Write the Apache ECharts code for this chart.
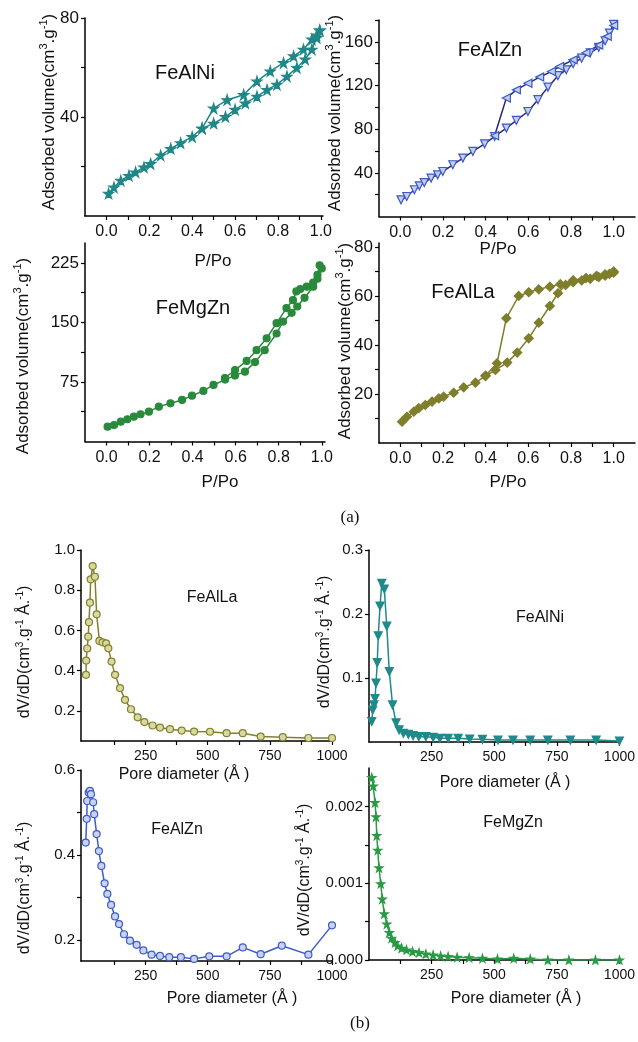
<!DOCTYPE html>
<html>
<head>
<meta charset="utf-8">
<title>Isotherms and pore size distributions</title>
<script src="https://cdn.jsdelivr.net/npm/echarts@6/dist/echarts.min.js"></script>
<style>
  html, body { margin: 0; padding: 0; background: #fff; }
  #chart { width: 638px; height: 1042px; }
</style>
</head>
<body>
<div id="chart"></div>
<script>
// (a) N2 isotherms: relative pressure P/Po and adsorbed volume, adsorption + desorption branches
const niAdsP = [0.01, 0.035, 0.067, 0.105, 0.136, 0.175, 0.206, 0.253, 0.3, 0.346, 0.4, 0.446, 0.5, 0.555, 0.6, 0.648, 0.702, 0.749, 0.795, 0.842, 0.888, 0.927, 0.958, 0.981, 0.995]
const niAdsV = [9.1, 11.6, 14.3, 16.3, 17.7, 19.7, 21.1, 24.5, 27.2, 29.5, 32, 35.4, 37.4, 40.1, 43, 45.6, 48.3, 51, 53.1, 56.4, 59.9, 63.3, 67.3, 72, 75]
const niDesP = [0.995, 0.98, 0.958, 0.919, 0.873, 0.826, 0.764, 0.702, 0.64, 0.563, 0.5, 0.446]
const niDesV = [75, 73, 71.4, 67.3, 64.6, 61.9, 58.5, 54.4, 49, 46.9, 43.5, 35.4]

const znAdsP = [0.003, 0.03, 0.066, 0.089, 0.112, 0.144, 0.175, 0.199, 0.246, 0.293, 0.34, 0.395, 0.442, 0.497, 0.544, 0.598, 0.645, 0.692, 0.739, 0.778, 0.81, 0.85, 0.89, 0.93, 0.96, 0.98, 1.0]
const znAdsV = [15.3, 18.3, 24.5, 28.1, 31.1, 35.2, 38.2, 41.2, 47.4, 53.5, 59.6, 66.6, 73.3, 81, 88, 96.2, 107, 118.5, 129, 134.4, 140, 145, 150, 155, 161, 168, 176]
const znDesP = [1.0, 0.97, 0.93, 0.87, 0.81, 0.747, 0.708, 0.653, 0.598, 0.544, 0.497, 0.442]
const znDesV = [175, 165, 157, 150, 143.5, 137.4, 132.8, 127.7, 122, 116, 108.5, 74]

const mgAdsP = [0.005, 0.035, 0.066, 0.097, 0.127, 0.158, 0.197, 0.243, 0.297, 0.351, 0.397, 0.45, 0.497, 0.551, 0.597, 0.643, 0.69, 0.735, 0.79, 0.82, 0.86, 0.886, 0.92, 0.96, 0.98, 1.0]
const mgAdsV = [18.7, 20.8, 25, 28, 31.3, 34.3, 37.6, 43.9, 48.1, 52.3, 57.7, 63.7, 71.2, 78, 83, 88, 100, 115, 136, 151, 162, 170, 181, 195, 205, 218]
const mgDesP = [0.99, 0.98, 0.96, 0.93, 0.9, 0.882, 0.866, 0.836, 0.79, 0.744, 0.697, 0.651, 0.597, 0.55]
const mgDesV = [222, 210, 200, 195, 192, 189, 178, 168, 149, 130, 115, 101.5, 90, 80]

const laAdsP = [0.008, 0.031, 0.063, 0.086, 0.117, 0.149, 0.18, 0.203, 0.25, 0.297, 0.352, 0.399, 0.446, 0.501, 0.548, 0.602, 0.649, 0.701, 0.739, 0.775, 0.81, 0.85, 0.89, 0.93, 0.96, 0.98, 1.0]
const laAdsV = [8.7, 10.7, 12.8, 14.2, 15.5, 16.9, 18.2, 18.9, 20.5, 22.7, 24.6, 27.3, 29.8, 32.8, 36.9, 42.7, 49.1, 55.9, 61.1, 64.5, 65.6, 66.3, 67, 67.7, 68.3, 69, 69.5]
const laDesP = [1.0, 0.96, 0.92, 0.87, 0.81, 0.75, 0.701, 0.649, 0.602, 0.555, 0.497, 0.453, 0.4]
const laDesV = [70, 68.8, 68.2, 67.3, 66.4, 64.8, 63.8, 62.7, 61.5, 60, 50.9, 32.5, 27.5]

// (b) pore size distributions: pore diameter (Å) and dV/dD
const laPsdD = [10, 11, 15, 19, 22, 26, 29, 37, 46, 53, 64, 77, 91, 100, 113, 127, 147, 167, 191, 218, 245, 278, 308, 348, 395, 445, 509, 576, 641, 713, 802, 905, 1000]
const laPsdV = [0.379, 0.45, 0.51, 0.569, 0.641, 0.738, 0.854, 0.92, 0.867, 0.68, 0.548, 0.541, 0.536, 0.511, 0.445, 0.379, 0.313, 0.255, 0.208, 0.168, 0.144, 0.127, 0.117, 0.109, 0.102, 0.097, 0.096, 0.089, 0.089, 0.072, 0.069, 0.065, 0.065]

const niPsdD = [11, 15, 20, 24, 28, 33, 37, 44, 51, 61, 71, 81, 94, 108, 120, 137, 157, 176, 199, 227, 256, 283, 316, 356, 402, 453, 515, 575, 644, 714, 804, 907, 1000]
const niPsdV = [0.032, 0.05, 0.058, 0.068, 0.092, 0.124, 0.166, 0.2125, 0.248, 0.239, 0.181, 0.11, 0.058, 0.03, 0.019, 0.0136, 0.012, 0.0099, 0.0083, 0.0083, 0.0073, 0.0058, 0.0058, 0.0058, 0.0047, 0.0042, 0.0031, 0.003, 0.003, 0.003, 0.003, 0.003, 0.0016]

const znPsdD = [9, 13, 15, 21, 26, 30, 39, 43, 53, 62, 72, 85, 96, 111, 127, 143, 163, 187, 214, 241, 274, 308, 345, 392, 445, 506, 576, 641, 713, 798, 905, 1000]
const znPsdV = [0.429, 0.485, 0.527, 0.547, 0.551, 0.543, 0.524, 0.496, 0.449, 0.409, 0.374, 0.333, 0.308, 0.282, 0.255, 0.237, 0.213, 0.198, 0.188, 0.175, 0.165, 0.162, 0.159, 0.159, 0.155, 0.161, 0.161, 0.182, 0.166, 0.186, 0.165, 0.234]

const mgPsdD = [11, 17, 24, 28, 31, 35, 40, 47, 53, 61, 71, 81, 90, 104, 114, 130, 150, 174, 200, 227, 256, 286, 316, 352, 400, 453, 513, 578, 644, 714, 798, 904, 1000]
const mgPsdV = [0.002375, 0.002265, 0.00205, 0.001865, 0.00162, 0.00143, 0.0012, 0.000993, 0.000793, 0.000601, 0.000467, 0.000357, 0.000284, 0.000226, 0.000183, 0.000153, 0.000131, 0.000109, 0.000096, 0.000078, 0.000065, 0.000052, 0.000044, 0.000035, 0.00003, 0.000022, 0.000013, 0.000022, 0.000013, 0, 0, 0, 0]

// tick labels
const ppTicks = [0, 0.2, 0.4, 0.6, 0.8, 1.0]
const ppMinor = [0, 0.1, 0.2, 0.3, 0.4, 0.5, 0.6, 0.7, 0.8, 0.9, 1.0]
const poreTicks = [250, 500, 750, 1000]
const poreMinor = [125, 250, 375, 500, 625, 750, 875, 1000]

const FONT = 'Liberation Sans, Arial, sans-serif'
const STAR = 'path://M50,0 L61,35 L98,35 L68,57 L79,91 L50,70 L21,91 L32,57 L2,35 L39,35 Z'

function pairs (xs, ys) {
  return xs.map((x, i) => [x, ys[i]])
}

const axisLine = { show: true, onZero: false, lineStyle: { color: '#000', width: 1.5 } }

function xAxisOf (grid, min, max, labels, ticks, fmt, size) {
  return {
    type: 'value', gridIndex: grid, min: min, max: max,
    axisLine: axisLine,
    axisTick: { show: true, length: 4, customValues: ticks, lineStyle: { color: '#000', width: 1.2 } },
    axisLabel: { customValues: labels, formatter: fmt, fontSize: size, color: '#111', margin: 8, fontFamily: FONT },
    splitLine: { show: false }
  }
}

function yAxisOf (grid, min, max, labels, ticks, fmt, size) {
  return {
    type: 'value', gridIndex: grid, min: min, max: max,
    axisLine: axisLine,
    axisTick: { show: true, length: 4, customValues: ticks, lineStyle: { color: '#000', width: 1.2 } },
    axisLabel: { customValues: labels, formatter: fmt, fontSize: size, color: '#111', margin: 6, fontFamily: FONT },
    splitLine: { show: false }
  }
}

const f1 = v => v.toFixed(1)
const f0 = v => String(v)
const f3 = v => v.toFixed(3)

function lineSeries (idx, data, color, lineColor, symbol, size, fill, rotate) {
  return {
    type: 'line', xAxisIndex: idx, yAxisIndex: idx, data: data,
    symbol: symbol, symbolSize: size, symbolRotate: rotate || 0,
    lineStyle: { color: lineColor, width: 1.5 },
    itemStyle: { color: fill, borderColor: color, borderWidth: 1.2 },
    z: 3
  }
}

function label (x, y, text, size, family) {
  return {
    type: 'text', x: x, y: y, silent: true,
    style: { text: text, fill: '#111', font: size + 'px ' + (family || FONT), textAlign: 'center', textVerticalAlign: 'middle', align: 'center', verticalAlign: 'middle' }
  }
}

function vLabel (x, y, text, size) {
  return {
    type: 'text', x: x, y: y, rotation: Math.PI / 2, silent: true,
    style: {
      text: text, fill: '#111', textAlign: 'center', textVerticalAlign: 'middle', align: 'center', verticalAlign: 'middle',
      rich: {
        a: { fontSize: size, fontFamily: FONT, color: '#111', lineHeight: size + 4 },
        s: { fontSize: Math.round(size * 0.62), fontFamily: FONT, color: '#111', verticalAlign: 'top', lineHeight: size + 4 }
      }
    }
  }
}

const adsName = '{a|Adsorbed volume(cm}{s|3}{a|.g}{s|-1}{a|)}'
const psdName = '{a|dV/dD(cm}{s|3}{a|.g}{s|-1}{a| Å.}{s|-1}{a|)}'

const chart = echarts.init(document.getElementById('chart'))
chart.setOption({
  animation: false,
  backgroundColor: '#fff',
  grid: [
    { left: 85, top: 18, width: 238, height: 198 },
    { left: 379, top: 20, width: 256, height: 196.5 },
    { left: 85, top: 243, width: 240, height: 198.5 },
    { left: 379, top: 243, width: 256, height: 200 },
    { left: 81, top: 550, width: 251, height: 191 },
    { left: 369, top: 550, width: 251, height: 192 },
    { left: 81, top: 770, width: 251, height: 191 },
    { left: 369, top: 768, width: 251, height: 192 }
  ],
  xAxis: [
    xAxisOf(0, -0.1, 1.01, ppTicks, ppMinor, f1, 16),
    xAxisOf(1, -0.1, 1.1, ppTicks, ppMinor, f1, 16),
    xAxisOf(2, -0.1, 1.015, ppTicks, ppMinor, f1, 16),
    xAxisOf(3, -0.1, 1.1, ppTicks, ppMinor, f1, 16),
    xAxisOf(4, -10, 1000, poreTicks, poreMinor, f0, 14),
    xAxisOf(5, 0, 1000, poreTicks, poreMinor, f0, 14),
    xAxisOf(6, -10, 1000, poreTicks, poreMinor, f0, 14),
    xAxisOf(7, 0, 1000, poreTicks, poreMinor, f0, 14)
  ],
  yAxis: [
    yAxisOf(0, 0, 80, [40, 80], [20, 40, 60, 80], f0, 17),
    yAxisOf(1, 0, 180, [40, 80, 120, 160], [20, 40, 60, 80, 100, 120, 140, 160, 180], f0, 17),
    yAxisOf(2, 0, 250, [75, 150, 225], [37.5, 75, 112.5, 150, 187.5, 225], f0, 17),
    yAxisOf(3, 0, 81.6, [20, 40, 60, 80], [10, 20, 30, 40, 50, 60, 70, 80], f0, 17),
    yAxisOf(4, 0.05, 1.0, [0.2, 0.4, 0.6, 0.8, 1.0], [0.2, 0.4, 0.6, 0.8, 1.0], f1, 15),
    yAxisOf(5, 0, 0.3, [0.1, 0.2, 0.3], [0.1, 0.2, 0.3], f1, 15),
    yAxisOf(6, 0.15, 0.6, [0.2, 0.4, 0.6], [0.2, 0.3, 0.4, 0.5, 0.6], f1, 15),
    yAxisOf(7, 0, 0.0025, [0, 0.001, 0.002], [0, 0.0005, 0.001, 0.0015, 0.002], f3, 15)
  ],
  series: [
    lineSeries(0, pairs(niAdsP, niAdsV), '#1f8787', '#1f8787', STAR, 10, '#1f8787'),
    lineSeries(0, pairs(niDesP, niDesV), '#1f8787', '#1f8787', STAR, 10, '#1f8787'),
    lineSeries(1, pairs(znAdsP, znAdsV), '#3c5ac0', '#2a2a78', 'triangle', 8, '#c3cdf2', 180),
    lineSeries(1, pairs(znDesP, znDesV), '#3c5ac0', '#2a2a78', 'triangle', 8, '#c3cdf2', 90),
    lineSeries(2, pairs(mgAdsP, mgAdsV), '#2a8a3c', '#2a8a3c', 'circle', 7, '#2a8a3c'),
    lineSeries(2, pairs(mgDesP, mgDesV), '#2a8a3c', '#2a8a3c', 'circle', 7, '#2a8a3c'),
    lineSeries(3, pairs(laAdsP, laAdsV), '#7e7e2c', '#7e7e2c', 'diamond', 9, '#7e7e2c'),
    lineSeries(3, pairs(laDesP, laDesV), '#7e7e2c', '#7e7e2c', 'diamond', 9, '#7e7e2c'),
    lineSeries(4, pairs(laPsdD, laPsdV), '#80802e', '#80802e', 'circle', 7, '#d8d8a0'),
    lineSeries(5, pairs(niPsdD, niPsdV), '#1f8a8a', '#1f8a8a', 'triangle', 8, '#1f8a8a', 180),
    lineSeries(6, pairs(znPsdD, znPsdV), '#3d5cc4', '#3d5cc4', 'circle', 7, '#c9d2f2'),
    lineSeries(7, pairs(mgPsdD, mgPsdV), '#2a9a45', '#2a9a45', STAR, 8, '#2a9a45')
  ],
  graphic: [
    label(185, 73, 'FeAlNi', 20),
    label(490, 50, 'FeAlZn', 20),
    label(193, 308, 'FeMgZn', 20),
    label(463, 292, 'FeAlLa', 20),
    label(213, 261, 'P/Po', 17),
    label(498, 249, 'P/Po', 17),
    label(220, 482, 'P/Po', 17),
    label(508, 482, 'P/Po', 17),
    vLabel(49, 112, adsName, 17),
    vLabel(335, 113, adsName, 17),
    vLabel(23, 356, adsName, 17),
    vLabel(345, 341, adsName, 17),
    label(350, 518, '(a)', 17, 'Liberation Serif, serif'),
    label(212, 598, 'FeAlLa', 16),
    label(540, 618, 'FeAlNi', 16),
    label(177, 830, 'FeAlZn', 16),
    label(513, 823, 'FeMgZn', 16),
    label(184, 775, 'Pore diameter (Å )', 16),
    label(505, 783, 'Pore diameter (Å )', 16),
    label(232, 999, 'Pore diameter (Å )', 16),
    label(516, 999, 'Pore diameter (Å )', 16),
    vLabel(25, 652, psdName, 16),
    vLabel(325, 642, psdName, 16),
    vLabel(25, 888, psdName, 16),
    vLabel(305, 870, psdName, 16),
    label(360, 1024, '(b)', 17, 'Liberation Serif, serif')
  ]
})
</script>
</body>
</html>
